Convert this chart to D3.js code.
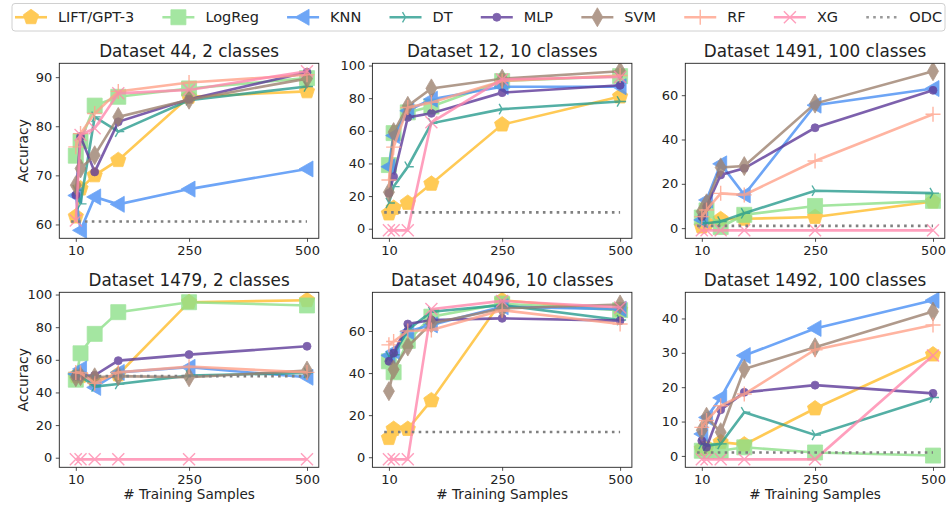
<!DOCTYPE html>
<html>
<head>
<meta charset="utf-8">
<script src="https://cdn.jsdelivr.net/npm/d3@7"></script>
<style>
  body { margin: 0; background: #fff; }
  text { font-family: "DejaVu Sans", sans-serif; fill: #222; }
</style>
</head>
<body>
<script>
// x positions (training samples) shared by all panels
var xSamples = [10, 20, 50, 100, 250, 500];
var methods = ["LIFT/GPT-3", "LogReg", "KNN", "DT", "MLP", "SVM", "RF", "XG"];
var titles = ["Dataset 44, 2 classes", "Dataset 12, 10 classes", "Dataset 1491, 100 classes",
              "Dataset 1479, 2 classes", "Dataset 40496, 10 classes", "Dataset 1492, 100 classes"];
var xTicks = [10, 250, 500];
var odcRange = [0, 500];

// accuracy per method, rows follow "methods"
var acc44 = [
  [61.6, 67.3, 70.0, 73.1, 86.0, 87.1],
  [74.0, 77.0, 84.2, 86.0, 87.7, 89.8],
  [65.9, 58.8, 65.6, 64.1, 67.2, 71.3],
  [67.0, 64.2, 81.9, 78.9, 85.3, 88.1],
  [66.0, 77.9, 70.7, 80.9, 85.5, 91.0],
  [68.0, 71.4, 74.1, 81.9, 85.4, 89.7],
  [75.8, 78.5, 82.6, 87.1, 88.9, 90.5],
  [60.8, 78.2, 79.6, 86.7, 87.4, 91.2]
];
var acc12 = [
  [9.3, 12.7, 15.8, 27.5, 63.8, 81.0],
  [39.0, 58.6, 71.3, 74.9, 90.5, 93.5],
  [38.0, 57.1, 72.3, 79.4, 87.0, 87.0],
  [15.8, 25.8, 38.0, 64.6, 73.3, 78.0],
  [21.8, 31.9, 68.2, 70.7, 83.4, 87.9],
  [22.4, 59.2, 75.3, 86.0, 91.9, 96.5],
  [29.9, 50.0, 74.3, 77.4, 90.5, 93.9],
  [-1, -1, -1, 65.2, 91.5, 93.0]
];
var acc1491 = [
  [0.7, 2.2, 4.0, 4.2, 5.0, 12.0],
  [4.8, 8.0, 0.5, 6.0, 10.0, 12.3],
  [3.7, 12.7, 29.0, 15.0, 55.5, 63.0],
  [2.2, 2.2, 3.0, 6.7, 16.9, 15.8],
  [5.2, 9.7, 24.0, 27.0, 45.3, 62.2],
  [7.5, 11.2, 27.4, 28.0, 56.2, 70.8],
  [5.2, 8.2, 15.7, 15.0, 30.3, 51.4],
  [-1, -1, -1, -1, -1, -1]
];
var acc1479 = [
  [50.0, 50.0, 47.2, 51.0, 95.3, 96.5],
  [47.8, 64.0, 75.9, 89.2, 95.3, 93.3],
  [51.3, 54.4, 43.1, 52.3, 55.4, 49.3],
  [50.3, 50.0, 43.6, 45.2, 50.3, 52.0],
  [50.0, 50.0, 50.5, 59.5, 63.2, 68.3],
  [49.3, 50.0, 49.3, 50.0, 49.3, 53.4],
  [52.3, 52.0, 45.6, 52.3, 55.8, 52.3],
  [-1, -1, -1, -1, -1, -1]
];
var acc40496 = [
  [9.1, 13.4, 13.4, 27.0, 74.6, 70.0],
  [45.6, 40.4, 55.3, 66.8, 73.0, 69.9],
  [48.4, 50.3, 59.7, 62.9, 71.5, 70.4],
  [47.9, 48.7, 60.5, 69.1, 72.3, 65.2],
  [45.6, 49.5, 63.3, 65.2, 66.0, 64.9],
  [31.4, 41.7, 52.6, 63.6, 70.7, 72.6],
  [53.4, 55.0, 60.0, 60.5, 69.9, 63.3],
  [-1, -1, -1, 70.4, 74.3, 71.2]
];
var acc1492 = [
  [2.0, 2.5, 4.0, 3.3, 13.8, 29.5],
  [1.5, 1.5, 1.5, 2.5, 1.0, 0.1],
  [6.4, 11.2, 16.9, 29.2, 37.1, 45.3],
  [3.5, 3.0, 3.5, 12.7, 6.1, 17.0],
  [4.4, 2.5, 13.4, 18.5, 20.6, 18.2],
  [7.5, 11.4, 6.9, 25.3, 31.6, 42.0],
  [8.3, 10.3, 14.6, 18.0, 30.9, 38.1],
  [-1, -1, -1, -1, -1, 29.2]
];
var odcValues = [60.6, 10, 1, 50, 12, 1];
var yTicks = [[60, 70, 80, 90], [0, 20, 40, 60, 80, 100], [0, 20, 40, 60],
              [0, 20, 40, 60, 80, 100], [0, 20, 40, 60], [0, 10, 20, 30, 40]];

var panels = [acc44, acc12, acc1491, acc1479, acc40496, acc1492];

// styling
var colors = ["#ffbd2e", "#8ee08a", "#4a90f5", "#2a9d8f", "#5e3c99", "#9e8270", "#ffa28a", "#ff88ad"];
var markers = ["pentagon", "square", "tri-left", "tri-right", "circle", "thin-diamond", "plus", "cross"];

var w = 950, h = 508;
var colLeft = [59.3, 372.4, 685.3];
var rowTop = [63.3, 292.3];
var pw = 259.5, ph = 175;

var svg = d3.select("body").append("svg")
  .attr("width", w)
  .attr("height", h);

function markerPath(kind) {
  var p = d3.path();
  if (kind === "pentagon") {
    var r = 8;
    for (var i = 0; i < 5; i++) {
      var a = -Math.PI / 2 + i * 2 * Math.PI / 5;
      if (i === 0) p.moveTo(r * Math.cos(a), r * Math.sin(a));
      else p.lineTo(r * Math.cos(a), r * Math.sin(a));
    }
    p.closePath();
  } else if (kind === "square") {
    p.rect(-7.5, -7.5, 15, 15);
  } else if (kind === "tri-left") {
    p.moveTo(-8, 0); p.lineTo(6, -8); p.lineTo(6, 8); p.closePath();
  } else if (kind === "tri-right") {
    p.moveTo(0, 0); p.lineTo(6, 0);
    p.moveTo(0, 0); p.lineTo(-3, -5.2);
    p.moveTo(0, 0); p.lineTo(-3, 5.2);
  } else if (kind === "circle") {
    p.arc(0, 0, 4, 0, 2 * Math.PI);
  } else if (kind === "thin-diamond") {
    p.moveTo(0, -9.5); p.lineTo(5.5, 0); p.lineTo(0, 9.5); p.lineTo(-5.5, 0); p.closePath();
  } else if (kind === "plus") {
    p.moveTo(-7.5, 0); p.lineTo(7.5, 0); p.moveTo(0, -7.5); p.lineTo(0, 7.5);
  } else if (kind === "cross") {
    p.moveTo(-6, -6); p.lineTo(6, 6); p.moveTo(-6, 6); p.lineTo(6, -6);
  }
  return p.toString();
}
var strokeOnly = { "tri-right": true, "plus": true, "cross": true };

function drawMarker(g, kind, color) {
  var m = g.append("path").attr("d", markerPath(kind));
  if (strokeOnly[kind]) {
    m.attr("fill", "none").attr("stroke", color).attr("stroke-width", 1.4);
  } else {
    m.attr("fill", color).attr("stroke", color).attr("stroke-width", 0.8);
  }
  return m;
}

panels.forEach(function(data, k) {
  var left = colLeft[k % 3], top = rowTop[Math.floor(k / 3)];
  var g = svg.append("g").attr("transform", "translate(" + left + "," + top + ")");

  // matplotlib style 5% margins
  var xs = xSamples.concat(odcRange);
  var xmin = d3.min(xs), xmax = d3.max(xs);
  var xpad = (xmax - xmin) * 0.05;
  var xScale = d3.scaleLinear().domain([xmin - xpad, xmax + xpad]).range([0, pw]);

  var ys = d3.merge(data).concat([odcValues[k]]);
  var ymin = d3.min(ys), ymax = d3.max(ys);
  var ypad = (ymax - ymin) * 0.05;
  var yScale = d3.scaleLinear().domain([ymin - ypad, ymax + ypad]).range([ph, 0]);

  var clip = "clip" + k;
  g.append("clipPath").attr("id", clip).append("rect")
    .attr("width", pw).attr("height", ph);

  var plot = g.append("g").attr("clip-path", "url(#" + clip + ")");
  var line = d3.line()
    .x(function(d, i) { return xScale(xSamples[i]); })
    .y(function(d) { return yScale(d); });

  data.forEach(function(series, s) {
    var sg = plot.append("g").attr("opacity", 0.8);
    sg.append("path")
      .attr("d", line(series))
      .attr("fill", "none")
      .attr("stroke", colors[s])
      .attr("stroke-width", 2.6);
    sg.selectAll("g.pt")
      .data(series)
      .enter()
      .append("g")
      .attr("class", "pt")
      .attr("transform", function(d, i) {
        return "translate(" + xScale(xSamples[i]) + "," + yScale(d) + ")";
      })
      .each(function() { drawMarker(d3.select(this), markers[s], colors[s]); });
  });

  // ODC dotted line
  plot.append("line")
    .attr("x1", xScale(odcRange[0])).attr("x2", xScale(odcRange[1]))
    .attr("y1", yScale(odcValues[k])).attr("y2", yScale(odcValues[k]))
    .attr("stroke", "#808080")
    .attr("stroke-width", 2.6)
    .attr("stroke-dasharray", "2.6,4.3");

  var xAxis = d3.axisBottom(xScale).tickValues(xTicks).tickSize(3.5).tickPadding(3.5);
  var yAxis = d3.axisLeft(yScale).tickValues(yTicks[k]).tickSize(3.5).tickPadding(3.5);

  var gx = g.append("g").attr("transform", "translate(0," + ph + ")").call(xAxis);
  var gy = g.append("g").call(yAxis);
  [gx, gy].forEach(function(ax) {
    ax.select(".domain").remove();
    ax.selectAll("text").attr("font-size", "13px").attr("fill", "#222")
      .attr("font-family", "DejaVu Sans");
    ax.selectAll("line").attr("stroke", "#222").attr("stroke-width", 0.8);
  });

  g.append("rect")
    .attr("width", pw).attr("height", ph)
    .attr("fill", "none")
    .attr("stroke", "#222")
    .attr("stroke-width", 0.9);

  g.append("text")
    .attr("x", pw / 2).attr("y", -6.8)
    .attr("text-anchor", "middle")
    .attr("font-size", "16.8px")
    .text(titles[k]);

  if (k % 3 === 0) {
    g.append("text")
      .attr("transform", "translate(" + (28 - left) + "," + (ph / 2) + ") rotate(-90)")
      .attr("text-anchor", "middle")
      .attr("font-size", "13.9px")
      .text("Accuracy");
  }
  if (k >= 3) {
    g.append("text")
      .attr("x", pw / 2).attr("y", ph + 32)
      .attr("text-anchor", "middle")
      .attr("font-size", "13.6px")
      .text("# Training Samples");
  }
});

// Legend
var legX0 = 12, legX1 = 945, legY0 = 3.5, legY1 = 31;
var legend = svg.append("g");
legend.append("rect")
  .attr("x", legX0).attr("y", legY0)
  .attr("width", legX1 - legX0).attr("height", legY1 - legY0)
  .attr("rx", 3)
  .attr("fill", "#fff")
  .attr("stroke", "#d0d0d0")
  .attr("stroke-width", 1);

var legNames = methods.concat(["ODC"]);
var handleLen = 32, textGap = 11, legPad = 3;
var items = legNames.map(function(name, i) {
  var it = legend.append("g");
  var t = it.append("text")
    .attr("font-size", "14.5px")
    .attr("dy", "0.35em")
    .attr("x", handleLen + textGap)
    .text(name);
  return { g: it, w: t.node().getComputedTextLength() };
});
var totalW = d3.sum(items, function(d) { return handleLen + textGap + d.w; });
var gap = (legX1 - legX0 - 2 * legPad - totalW) / (items.length - 1);
var cx = legX0 + legPad, cy = (legY0 + legY1) / 2;
items.forEach(function(it, i) {
  it.g.attr("transform", "translate(" + cx + "," + cy + ")");
  var hg = it.g.insert("g", "text").attr("opacity", 0.8);
  if (i < methods.length) {
    hg.append("line").attr("x1", 0).attr("x2", handleLen)
      .attr("stroke", colors[i]).attr("stroke-width", 2.6);
    var mg = hg.append("g").attr("transform", "translate(" + handleLen / 2 + ",0)");
    drawMarker(mg, markers[i], colors[i]);
  } else {
    hg.append("line").attr("x1", 0).attr("x2", handleLen)
      .attr("stroke", "#808080").attr("stroke-width", 2.6)
      .attr("stroke-dasharray", "2.6,4.3");
  }
  cx += handleLen + textGap + it.w + gap;
});
</script>
</body>
</html>
